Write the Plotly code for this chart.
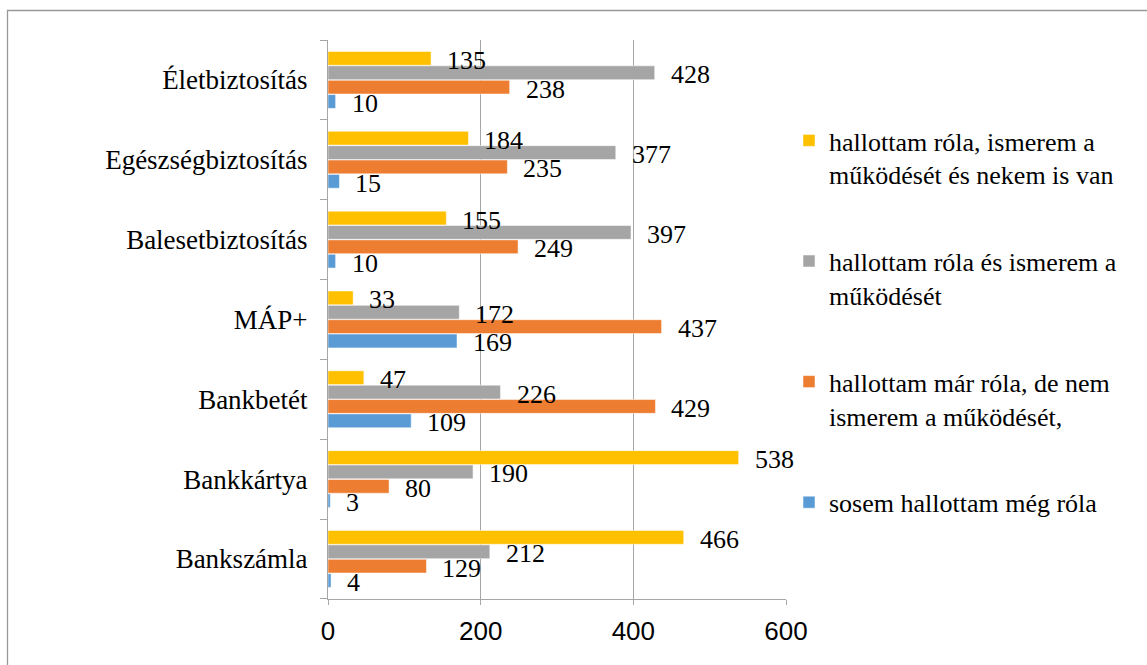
import plotly.graph_objects as go

categories = ["Bankszámla", "Bankkártya", "Bankbetét", "MÁP+",
              "Balesetbiztosítás", "Egészségbiztosítás", "Életbiztosítás"]

series_names = [
    "sosem hallottam még róla",
    "hallottam már róla, de nem<br>ismerem a működését,",
    "hallottam róla és ismerem a<br>működését",
    "hallottam róla, ismerem a<br>működését és nekem is van",
]
series_colors = ["#5B9BD5", "#ED7D31", "#A5A5A5", "#FFC000"]

sosem = [4, 3, 109, 169, 10, 15, 10]
nem_ismerem = [129, 80, 429, 437, 249, 235, 238]
ismerem = [212, 190, 226, 172, 397, 377, 428]
van = [466, 538, 47, 33, 155, 184, 135]
series_values = [sosem, nem_ismerem, ismerem, van]

x_ticks = [0, 200, 400, 600]

W, H = 1147, 665
ML, MR, MT, MB = 328, 361, 40, 66
BARGAP = 0.28
SERIF = "Liberation Serif, Times New Roman, serif"
SANS = "Liberation Sans, Arial, sans-serif"
GRID = "#a6a6a6"

fig = go.Figure()
n = len(series_values)
for i, (name, col, vals) in enumerate(zip(series_names, series_colors, series_values)):
    fig.add_trace(go.Bar(
        y=categories, x=vals, name=name, orientation="h",
        marker=dict(color=col, line=dict(color="white", width=0.5)),
        legendgroup=f"g{i}", legendrank=1000 - i,
    ))

# data labels
plot_h = H - MT - MB
band = plot_h / len(categories)
slot = band * (1 - BARGAP) / n
annotations = []
for k, vals in enumerate(series_values):
    for cat, v in zip(categories, vals):
        annotations.append(dict(
            x=v, y=cat, xref="x", yref="y", text=str(v), showarrow=False,
            xanchor="left", yanchor="middle", xshift=14,
            yshift=(k - 1.5) * slot - 2,
            font=dict(family=SERIF, size=26, color="black"),
        ))

plot_w = W - ML - MR
fig.update_layout(
    width=W, height=H,
    margin=dict(l=ML, r=MR, t=MT, b=MB),
    paper_bgcolor="white", plot_bgcolor="white",
    font=dict(family=SERIF, size=26, color="black"),
    barmode="group", bargap=BARGAP, bargroupgap=0.04,
    annotations=annotations,
    showlegend=True,
    legend=dict(
        traceorder="grouped", tracegroupgap=50,
        x=(789 - ML) / plot_w, xanchor="left",
        y=(H - MB - 117) / plot_h, yanchor="top",
        font=dict(family=SERIF, size=26, color="black"),
        valign="top", bgcolor="rgba(0,0,0,0)",
    ),
    xaxis=dict(
        range=[0, 600], tickvals=x_ticks, ticktext=[str(t) for t in x_ticks],
        showgrid=True, gridcolor=GRID, gridwidth=1,
        showline=True, linecolor=GRID, linewidth=1,
        ticks="outside", ticklen=5, tickcolor=GRID,
        tickfont=dict(family=SANS, size=26, color="black"),
        ticklabelstandoff=4,
        zeroline=False, fixedrange=True,
    ),
    yaxis=dict(
        type="category", categoryorder="array", categoryarray=categories,
        tickson="boundaries", ticks="outside", ticklen=7, tickcolor=GRID,
        showgrid=False, showline=True, linecolor=GRID, linewidth=1,
        tickfont=dict(family=SERIF, size=27, color="black"),
        ticklabelstandoff=14,
    ),
    shapes=[dict(
        type="rect", xref="paper", yref="paper",
        x0=(7.5 - ML) / plot_w, x1=(1200 - ML) / plot_w,
        y0=(H - MB - 700) / plot_h, y1=(H - MB - 10.5) / plot_h,
        line=dict(color="#999999", width=1.3), fillcolor="rgba(0,0,0,0)",
        layer="below",
    )],
)

fig.write_html("out.html")
